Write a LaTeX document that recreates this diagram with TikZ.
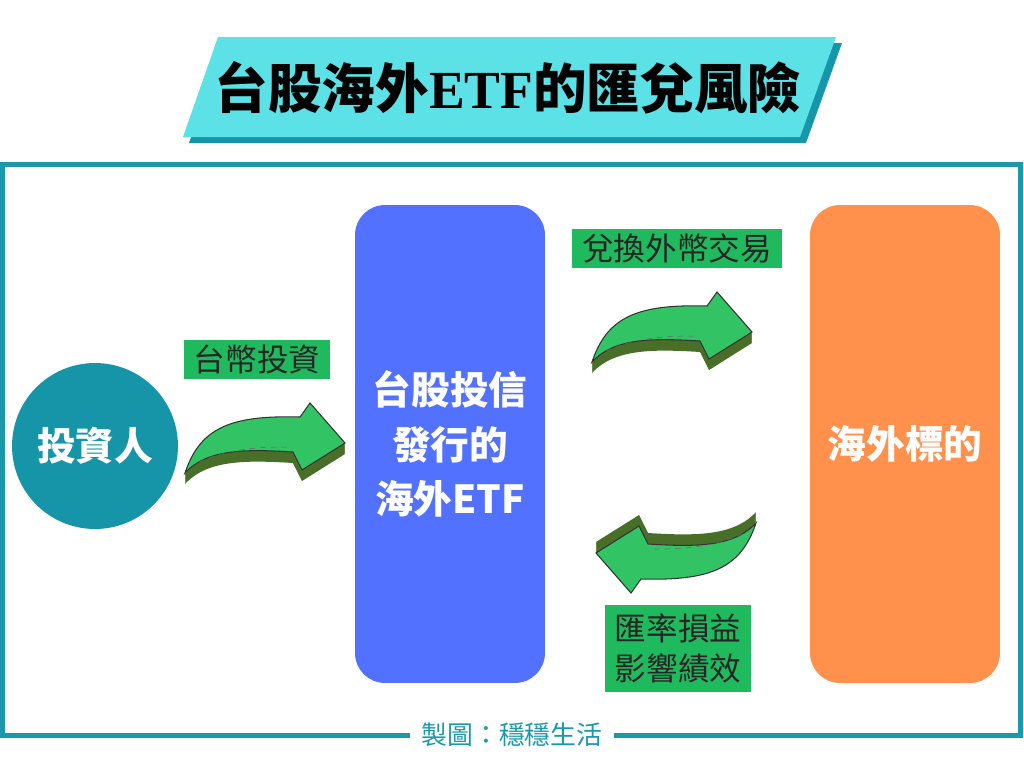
\documentclass[tikz,border=0pt]{standalone}
\usepackage{fontspec}
\setmainfont{Noto Sans CJK TC}
\newfontfamily\titlelatin{Liberation Serif}
\usepackage{xcolor}
\usepackage{tikz}
\usetikzlibrary{positioning}
\definecolor{frame_teal}{RGB}{27,153,171}
\definecolor{title_cyan}{RGB}{92,225,230}
\definecolor{title_shadow}{RGB}{22,150,170}
\definecolor{investor_teal}{RGB}{22,149,168}
\definecolor{etf_blue}{RGB}{82,113,255}
\definecolor{target_orange}{RGB}{255,145,77}
\definecolor{label_green}{RGB}{32,186,94}
\definecolor{arrow_green}{RGB}{50,196,100}
\definecolor{arrow_dark}{RGB}{72,110,40}

% outline of one bent arrow, tail at the origin (pixel units, y down)
\newcommand{\arrowshape}{(0,0) .. controls (15,-45) and (45,-58) .. (115,-56) -- (125,-70) -- (160,-30) -- (117,-3) -- (108,-21) .. controls (60,-24) and (22,-24) .. cycle}
\newcommand{\bentarrow}{%
  \foreach \d in {1,...,11} {\fill[arrow_dark, shift={(0,\d)}] \arrowshape;}
  \filldraw[fill=arrow_green, draw=black!80, line width=0.6pt] \arrowshape;
  \draw[black!60, line width=0.3pt, dashed] (14,-11) .. controls (45,-25) and (75,-26) .. (106,-26);
}

\begin{document}
\begin{tikzpicture}[x=0.02cm, y=-0.02cm,
    tag/.style={fill=label_green, text=black!85, font=\fontsize{18}{22.7}\selectfont,
      inner xsep=5.5pt, inner ysep=1pt, minimum height=0.78cm, align=center},
    bigbox/.style={rounded corners=0.6cm, minimum width=3.8cm, minimum height=9.56cm,
      text=white, font=\fontsize{22}{31}\selectfont\bfseries, align=center}]
    \useasboundingbox (0,0) rectangle (1024,768);

    % Title
    \fill[title_shadow] (224,43) -- (842,43) -- (806,143) -- (189,143) -- cycle;
    \fill[title_cyan] (218,37) -- (836,37) -- (800,137) -- (183,137) -- cycle;
    \node (title) at (508,88) {\fontsize{30.5}{36}\selectfont\bfseries 台股海外{\titlelatin ETF}的匯兌風險};

    % Frame
    \draw[frame_teal, line width=0.1cm] (2.5,164) -- (1020,164) -- (1020,735) -- (2.5,735) -- cycle;
    \node[fill=white, text=frame_teal, font=\fontsize{14.7}{18}\selectfont, inner xsep=6.5pt] (credit) at (512,735) {製圖：穩穩生活};

    % Investor, ETF, target
    \node[circle, fill=investor_teal, minimum size=3.32cm, text=white,
      font=\fontsize{22}{31}\selectfont\bfseries] (investor) at (95,446) {投資人};
    \node[bigbox, fill=etf_blue] (etf) at (450,444) {台股投信\\發行的\\海外ETF};
    \node[bigbox, fill=target_orange] (target) at (905,444) {海外標的};

    % Arrows
    \begin{scope}[shift={(185,473)}]
        \bentarrow
    \end{scope}
    \begin{scope}[shift={(592,362)}]
        \bentarrow
    \end{scope}
    \begin{scope}[shift={(756,523)}, rotate=180]
        \bentarrow
    \end{scope}

    % Labels
    \node[tag] (twd) at (257,359) {台幣投資};
    \node[tag] (fx) at (677,248) {兌換外幣交易};
    \node[tag, minimum height=1.74cm] (gain) at (678,648) {匯率損益\\影響績效};
\end{tikzpicture}
\end{document}
